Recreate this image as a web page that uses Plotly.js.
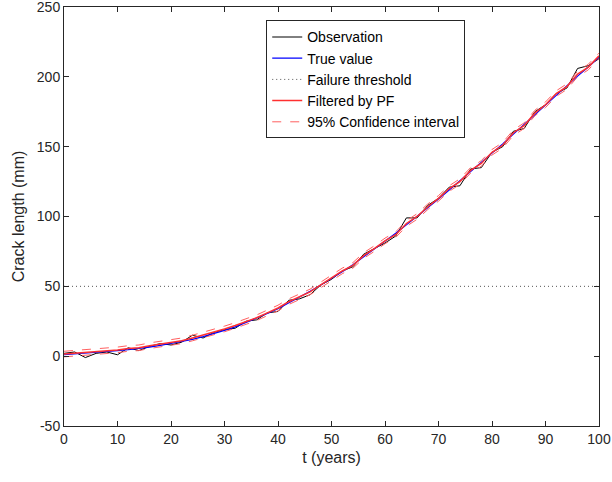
<!DOCTYPE html>
<html>
<head>
<script src="https://cdn.plot.ly/plotly-3.0.1.min.js"></script>
<style>body{margin:0}#chart{width:612px;height:482px}</style>
</head>
<body>
<div id="chart"></div>
<script>
const t = [0,2,4,6,8,10,12,14,16,18,20,22,24,26,28,30,32,34,36,38,40,42,44,46,48,50,52,54,56,58,60,62,64,66,68,70,72,74,76,78,80,82,84,86,88,90,92,94,96,98,100];
const trueValue = [1,1.5,2,2.5,3,4,4.7,5.5,6.5,7.7,9,10.5,12,14,16,18.5,21,24,27,30.5,34,38,42,46.5,51,55.5,60.5,65.5,71,76.5,82,88,94,100,106,112.5,119,125.5,132,138.5,145,152,159,166,173,180,187,194,200.5,207,214];
const observation = [2,3,-1,2,3,1,6,4,7,9,8,10,15,13,17,19,20,25,26,31,32,40,41,44,51,55,61,64,73,77,81,86,99,99,108,113,121,122,134,135,146,150,161,163,175,180,188,192,206,208,213];
const filtered = [1.5,2,2.5,3,4,4.5,5.5,6,7.5,8.5,10,11,13,15,17.5,19.5,22,24.5,27.5,31,34.5,39,42.5,46,51,56,61,65,72,77,82.5,87,95,100,107,113,120,125,133,138,146,151,160,165,174,180,188,193,202,207,215];
const ciWidth = [2,2,2,2,2,2,2,2,2,2,2,2,2,2,2,2,2,2,2,2,2,2,2,2,2,2,2,2,2,2,2,2,2,2,2,2,2,2,2,2,2,2,2,2,2,2,2,2,2,2,2];
const threshold = 50;
const yTicks = [-50, 0, 50, 100, 150, 200, 250];
const yTickText = ["-50", "0", "50", "100", "150", "200", "250"];

const upper = filtered.map((v, i) => v + ciWidth[i]);
const lower = filtered.map((v, i) => v - ciWidth[i]);

const series = [
  { name: "Observation", x: t, y: observation, mode: "lines", line: { color: "black", width: 1 } },
  { name: "True value", x: t, y: trueValue, mode: "lines", line: { color: "#0000ff", width: 1.2 } },
  { name: "Failure threshold", x: [0, 100], y: [threshold, threshold], mode: "lines", line: { color: "#555", width: 1, dash: "1px,3px" } },
  { name: "Filtered by PF", x: t, y: filtered, mode: "lines", line: { color: "#ff3030", width: 1.5 } },
  { name: "95% Confidence interval", x: t, y: upper, mode: "lines", line: { color: "#ff6060", width: 1, dash: "dash" } },
  { name: "lower", showlegend: false, x: t, y: lower, mode: "lines", line: { color: "#ff6060", width: 1, dash: "dash" } },
];

const font = "Arial, Liberation Sans";
const axisStyle = {
  showline: true, mirror: "ticks", linecolor: "#262626", linewidth: 1,
  ticks: "inside", ticklen: 5, tickcolor: "#262626",
  showgrid: false, zeroline: false, ticklabeloverflow: "allow",
  tickfont: { family: font, size: 14, color: "#262626" },
};

const layout = {
  width: 612, height: 482,
  margin: { l: 64, r: 13, t: 7, b: 56 },
  paper_bgcolor: "white", plot_bgcolor: "white",
  showlegend: true,
  legend: {
    x: 0.378, y: 0.968, xanchor: "left", yanchor: "top",
    bordercolor: "#262626", borderwidth: 1, bgcolor: "white",
    font: { family: font, size: 14, color: "black" },
    tracegroupgap: 0,
  },
  xaxis: Object.assign({}, axisStyle, {
    range: [0, 100], dtick: 10,
    title: { text: "t (years)", font: { family: font, size: 16, color: "#262626" }, standoff: 6 },
  }),
  yaxis: Object.assign({}, axisStyle, {
    range: [-50, 250], tickmode: "array", tickvals: yTicks, ticktext: yTickText,
    title: { text: "Crack length (mm)", font: { family: font, size: 16, color: "#262626" }, standoff: 8 },
  }),
};

Plotly.newPlot("chart", series, layout, { displayModeBar: false });
</script>
</body>
</html>
